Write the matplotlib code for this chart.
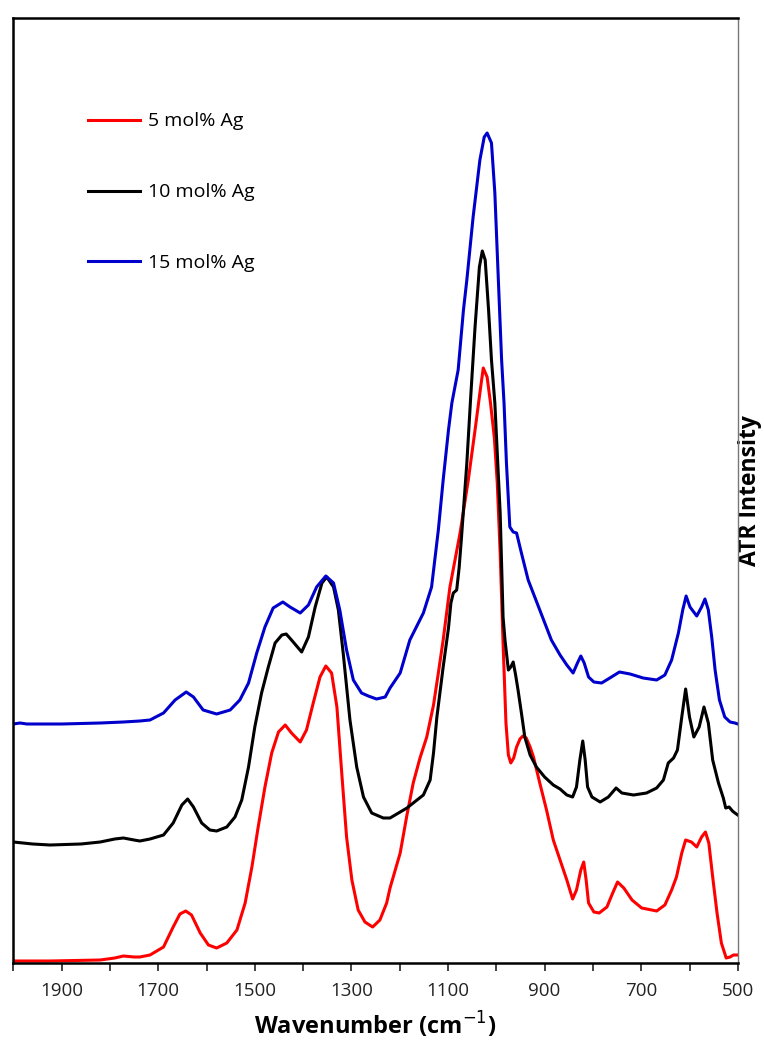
import numpy as np
import matplotlib.pyplot as plt
from matplotlib.ticker import MultipleLocator

plt.rcParams['font.family'] = ['Open Sans', 'DejaVu Sans']

# spectra (wavenumber in cm-1, intensity in arbitrary units)
wn_5 = [2000, 1924, 1820, 1790, 1772, 1750, 1738, 1717, 1689, 1669, 1655, 1643, 1631, 1613,
        1596, 1579, 1558, 1537, 1520, 1506, 1493, 1479, 1465, 1451, 1437, 1424, 1406, 1393,
        1379, 1365, 1353, 1341, 1330, 1320, 1310, 1299, 1286, 1272, 1256, 1241, 1227, 1220,
        1199, 1185, 1172, 1158, 1144, 1130, 1120, 1110, 1096, 1075, 1058, 1044, 1034, 1027,
        1019, 1012, 1004, 998, 992, 986, 980, 975, 970, 964, 958, 951, 945, 938, 930, 923,
        910, 896, 882, 868, 854, 842, 834, 825, 819, 814, 809, 798, 787, 771, 759, 749, 736,
        719, 699, 668, 651, 637, 627, 616, 608, 596, 585, 575, 567, 560, 552, 543, 534, 524,
        516, 509, 500]
int_5 = [2, 2, 3, 5, 7, 6, 6, 8, 16, 36, 49, 52, 48, 30,
         18, 15, 20, 33, 60, 96, 136, 176, 210, 231, 238, 230, 221, 233,
         260, 286, 297, 290, 256, 190, 126, 83, 53, 41, 36, 43, 60, 75,
         110, 148, 180, 205, 226, 258, 290, 323, 376, 430, 483, 533, 570, 595,
         586, 560, 525, 480, 410, 320, 240, 208, 200, 205, 216, 224, 227, 225, 216, 206,
         180, 153, 123, 103, 83, 64, 73, 93, 101, 83, 60, 51, 50, 56, 70, 81, 75,
         63, 55, 52, 58, 73, 86, 110, 123, 121, 116, 126, 131, 120, 86, 50, 20, 5,
         6, 8, 8]

wn_10 = [2000, 1960, 1924, 1860, 1820, 1790, 1772, 1750, 1738, 1717, 1689, 1669, 1651, 1639,
         1627, 1610, 1593, 1579, 1558, 1541, 1527, 1513, 1500, 1486, 1472, 1458, 1444, 1435,
         1424, 1403, 1389, 1375, 1361, 1351, 1337, 1327, 1317, 1303, 1289, 1275, 1258, 1234,
         1220, 1199, 1185, 1172, 1151, 1137, 1130, 1123, 1110, 1099, 1094, 1089, 1082, 1077,
         1072, 1061, 1053, 1044, 1035, 1029, 1023, 1016, 1010, 1003, 999, 992, 986, 982, 975,
         970, 965, 960, 955, 948, 941, 930, 917, 900, 882, 868, 854, 842, 834, 827, 821, 816,
         811, 802, 785, 768, 752, 740, 716, 689, 668, 654, 644, 633, 625, 616, 608, 600, 591,
         580, 570, 561, 552, 540, 530, 525, 518, 511, 506, 500]
int_10 = [121, 119, 118, 119, 121, 124, 125, 123, 122, 124, 128, 140, 158, 164,
          156, 140, 133, 132, 136, 146, 163, 196, 236, 270, 296, 320, 328, 329,
          323, 311, 326, 356, 380, 386, 376, 353, 310, 243, 196, 166, 150, 145,
          145, 151, 155, 160, 168, 183, 210, 246, 296, 335, 360, 370, 373, 395,
          426, 500, 566, 636, 696, 712, 703, 653, 603, 560, 520, 450, 346, 323, 293,
          296, 301, 288, 273, 250, 226, 208, 196, 186, 178, 174, 168, 166, 176, 203, 222, 203,
          176, 166, 161, 166, 175, 170, 168, 170, 175, 183, 200, 205, 213, 246, 274, 246, 226,
          236, 256, 240, 203, 180, 165, 155, 156, 152, 150, 148]

wn_15 = [2000, 1986, 1972, 1900, 1820, 1772, 1738, 1717, 1689, 1665, 1642, 1627, 1607, 1579,
         1551, 1531, 1513, 1496, 1479, 1462, 1442, 1427, 1406, 1389, 1372, 1353, 1337, 1324,
         1310, 1296, 1279, 1265, 1248, 1230, 1220, 1199, 1179, 1151, 1134, 1120, 1110, 1099,
         1092, 1079, 1068, 1061, 1048, 1034, 1025, 1019, 1010, 1003, 996, 989, 984, 979, 972,
         965, 958, 948, 934, 910, 886, 868, 854, 841, 832, 825, 818, 809, 798, 782, 765, 745,
         723, 696, 668, 651, 637, 623, 614, 607, 599, 585, 575, 568, 561, 554, 547, 538, 527,
         516, 506, 500]
int_15 = [239, 240, 239, 239, 240, 241, 242, 243, 250, 263, 271, 266, 253, 249,
          253, 263, 280, 310, 336, 355, 361, 356, 350, 358, 376, 387, 380, 353,
          313, 283, 270, 267, 264, 266, 275, 290, 323, 350, 376, 433, 483, 533,
          560, 593, 653, 683, 746, 803, 826, 830, 820, 770, 686, 603, 560, 500, 436,
          431, 430, 410, 383, 353, 323, 308, 298, 290, 300, 307, 300, 286, 281, 280, 285, 291,
          289, 285, 283, 288, 303, 330, 353, 367, 356, 347, 356, 364, 353, 326, 293, 263, 246,
          241, 240, 239]

series = [(wn_5, int_5, '#ff0000', '5 mol% Ag'),
          (wn_10, int_10, '#000000', '10 mol% Ag'),
          (wn_15, int_15, '#0000cc', '15 mol% Ag')]

fig = plt.figure(figsize=(7.64, 10.49), dpi=100)
ax = fig.add_axes([13.3 / 764, 1 - 963 / 1049, 724.5 / 764, 945 / 1049])

for x, y, c, lab in series:
    ax.plot(x, y, color=c, linewidth=2.2, label=lab, solid_joinstyle='round')

ax.set_xlim(2000, 500)
ax.set_ylim(0, 945)
ax.xaxis.set_major_locator(MultipleLocator(200, offset=100))
ax.xaxis.set_minor_locator(MultipleLocator(100))
ax.tick_params(axis='x', which='both', direction='out', length=6, width=1.2, pad=8,
               labelsize=13.5, colors='#222222')
ax.set_yticks([])

for s in ['left', 'bottom', 'top']:
    ax.spines[s].set_linewidth(1.8)
    ax.spines[s].set_color('black')
ax.spines['right'].set_linewidth(1.0)
ax.spines['right'].set_color('#777777')

ax.set_xlabel('Wavenumber (cm$^{-1}$)', fontsize=17, fontweight='bold', labelpad=7)
ax.yaxis.set_label_position('right')
ax.set_ylabel('ATR Intensity', fontsize=16.5, fontweight='bold', labelpad=0)

ax.legend(loc='upper left', bbox_to_anchor=(0.103, 0.9), frameon=False, fontsize=14,
          borderpad=0, borderaxespad=0, labelspacing=2.72, handlelength=2.7, handletextpad=0.4)

fig.savefig('out.png', dpi=100)
